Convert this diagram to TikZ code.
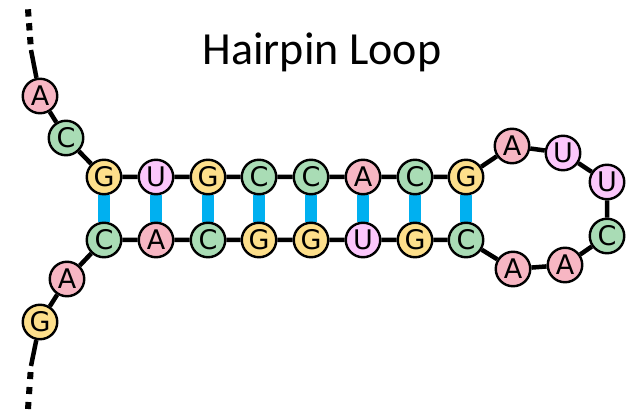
\documentclass[tikz,border=0pt]{standalone}
\usepackage{fontspec}
\newfontfamily\nucfont{DejaVu Sans}
\newfontfamily\titlefont{Carlito}
\usetikzlibrary{backgrounds}
\definecolor{cA}{HTML}{F7B6C3}
\definecolor{cC}{HTML}{A9DCB5}
\definecolor{cG}{HTML}{FDDF8B}
\definecolor{cU}{HTML}{FBC7FB}
\definecolor{pairblue}{HTML}{00B0F0}
\tikzset{
  base/.style={circle,draw=black,line width=2.4pt,minimum size=34.5pt,inner sep=0pt,font={\nucfont\fontsize{27pt}{27pt}\selectfont}},
  bA/.style={base,fill=cA},
  bC/.style={base,fill=cC},
  bG/.style={base,fill=cG},
  bU/.style={base,fill=cU},
  bb/.style={line width=4.5pt,black},
  dotstop/.style={line width=6pt,black,dash pattern=on 7.3pt off 6.6pt},
  dotsbot/.style={line width=6pt,black,dash pattern=on 7pt off 8pt},
  pair/.style={line width=11.5pt,pairblue}}
\begin{document}
\begin{tikzpicture}[x=1pt,y=-1pt]
\useasboundingbox (0,0) rectangle (635,411);
\node[font={\titlefont\fontsize{46pt}{46pt}\selectfont}] (title) at (322,52) {Hairpin Loop};
% 5' arm
\coordinate (t0) at (28,9.3);
\coordinate (t1) at (31,50);
\node[bA] (a1) at (40,96) {A};
\node[bC] (a2) at (66,138) {C};
% top strand
\node[bG] (s1) at (104,177) {G};
\node[bU] (s2) at (156,177) {U};
\node[bG] (s3) at (208,177) {G};
\node[bC] (s4) at (259,177) {C};
\node[bC] (s5) at (311,177) {C};
\node[bA] (s6) at (363,177) {A};
\node[bC] (s7) at (415,177) {C};
\node[bG] (s8) at (466,177) {G};
% loop
\node[bA] (l1) at (512,146) {A};
\node[bU] (l2) at (563,153) {U};
\node[bU] (l3) at (607,182) {U};
\node[bC] (l4) at (607,236) {C};
\node[bA] (l5) at (565,265) {A};
\node[bA] (l6) at (513,269) {A};
% bottom strand
\node[bC] (r8) at (466,240) {C};
\node[bG] (r7) at (415,240) {G};
\node[bU] (r6) at (363,240) {U};
\node[bG] (r5) at (311,240) {G};
\node[bG] (r4) at (259,240) {G};
\node[bC] (r3) at (208,240) {C};
\node[bA] (r2) at (156,240) {A};
\node[bC] (r1) at (104,240) {C};
% 3' arm
\node[bA] (b2) at (67,279) {A};
\node[bG] (b1) at (40,322) {G};
\coordinate (e1) at (31,366);
\coordinate (e0) at (28,409);
\begin{scope}[on background layer]
  \draw[dotstop] (t0) -- (t1);
  \draw[bb] (t1) -- (a1) -- (a2) -- (s1) -- (s2) -- (s3) -- (s4) -- (s5) -- (s6) -- (s7) -- (s8)
    -- (l1) -- (l2) -- (l3) -- (l4) -- (l5) -- (l6) -- (r8) -- (r7) -- (r6) -- (r5) -- (r4) -- (r3) -- (r2) -- (r1)
    -- (b2) -- (b1) -- (e1);
  \draw[dotsbot] (e0) -- (e1);
  \foreach \i in {1,...,8} \draw[pair] (s\i) -- (r\i);
\end{scope}
\end{tikzpicture}
\end{document}
